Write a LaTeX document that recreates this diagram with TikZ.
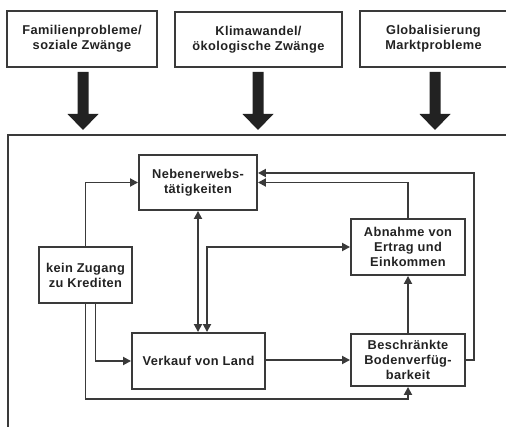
\documentclass[tikz,border=0pt]{standalone}
\usepackage{fontspec}
\setmainfont{Liberation Sans}[LetterSpace=3]
\usetikzlibrary{arrows.meta,calc}
\definecolor{ln}{HTML}{3A3A3A}
\definecolor{tx}{HTML}{222222}
\begin{document}
\begin{tikzpicture}[x=1pt,y=-1pt,
  box/.style={draw=ln,line width=1.9pt,rectangle,inner sep=0pt,align=center,
    font=\fontsize{12.8}{15}\selectfont\bfseries,text=tx},
  conn/.style={draw=ln,line width=1.8pt,-{Triangle[length=8pt,width=8pt]}},
  biconn/.style={draw=ln,line width=1.8pt,{Triangle[length=8pt,width=8pt]}-{Triangle[length=8pt,width=8pt]}},
  bigarrow/.style={fill=tx,draw=none}]
\useasboundingbox (0,0) rectangle (506,427);
\clip (0,0) rectangle (506,427);
% top boxes
\node[box,minimum width=150pt,minimum height=56pt] (fam) at (82,39) {Familienprobleme/\\soziale Zwänge};
\node[box,minimum width=167pt,minimum height=55pt] (klima) at (258.5,39.5) {Klimawandel/\\ökologische Zwänge};
\node[box,minimum width=147pt,minimum height=56pt] (glob) at (433.5,39) {Globalisierung\\Marktprobleme};
% big arrows
\foreach \cx in {83,258,435}{
  \fill[bigarrow] (\cx-5.5,72) -- (\cx+5.5,72) -- (\cx+5.5,114) -- (\cx+15.5,114)
    -- (\cx,130) -- (\cx-15.5,114) -- (\cx-5.5,114) -- cycle;
}
% frame
\draw[draw=ln,line width=1.9pt] (8,135) rectangle (530,450);
% inner nodes
\node[box,minimum width=118pt,minimum height=55pt] (neben) at (198,182.5) {Nebenerwebs-\\tätigkeiten};
\node[box,minimum width=93pt,minimum height=56pt] (kein) at (85.5,275) {kein Zugang\\zu Krediten};
\node[box,minimum width=133pt,minimum height=56pt] (verkauf) at (198.5,361) {Verkauf von Land};
\node[box,minimum width=114pt,minimum height=56pt] (abn) at (408,247) {Abnahme von\\Ertrag und\\Einkommen};
\node[box,minimum width=114pt,minimum height=52pt] (besch) at (408,360) {Beschränkte\\Bodenverfüg-\\barkeit};
% coordinates
\coordinate (lowy) at (86,399);
\coordinate (rr) at (474,173);
\coordinate (mid) at (207,247);
% connectors
\draw[conn] (kein.north) |- (neben.west);
\draw[conn] ([xshift=10pt]kein.south) |- (verkauf.west);
\draw[conn] (kein.south) |- (lowy -| besch.south) -- (besch.south);
\draw[biconn] (neben.south) -- (neben.south |- verkauf.north);
\draw[biconn] (mid |- verkauf.north) -- (mid) -- (abn.west);
\draw[conn] (verkauf.east |- besch.west) -- (besch.west);
\draw[conn] (besch.north) -- (abn.south);
\draw[conn] (abn.north) |- (neben.east);
\draw[conn] (besch.east) -| (rr) -- (rr -| neben.east);
\end{tikzpicture}
\end{document}
